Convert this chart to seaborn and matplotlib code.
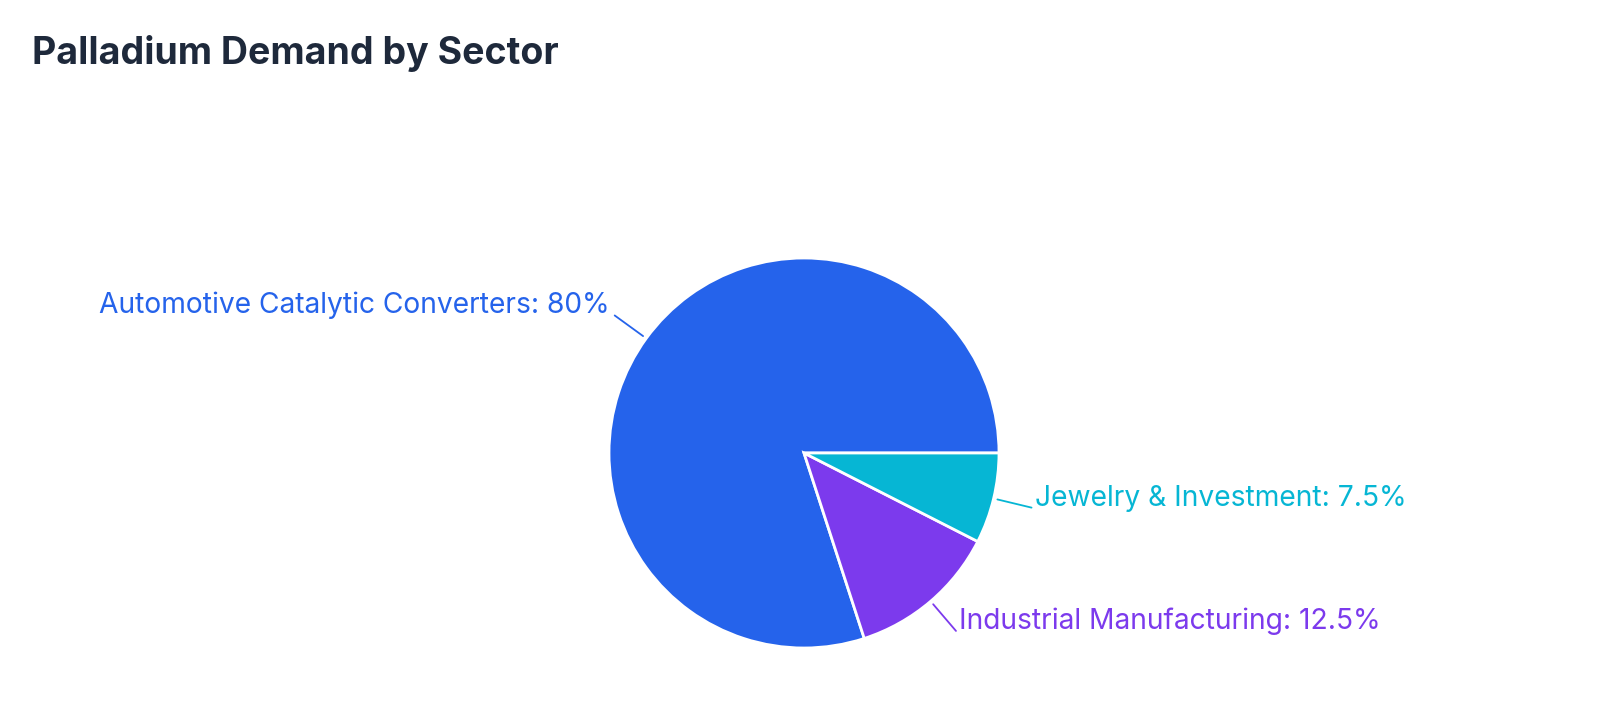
import numpy as np
import seaborn as sns
from matplotlib import pyplot as plt

sectors = ['Automotive Catalytic Converters', 'Industrial Manufacturing', 'Jewelry & Investment']
shares = [80, 12.5, 7.5]
share_labels = ['80%', '12.5%', '7.5%']
colors = ['#2563EB', '#7C3AED', '#06B6D4']

sns.set_theme(style='white')
plt.rcParams['font.family'] = ['Inter', 'DejaVu Sans']

fig = plt.figure(figsize=(16, 7.04), dpi=100)
ax = fig.add_axes([0, 0, 1, 1])

cx, cy, R = 804, 704 - 453, 195
wedges, _ = ax.pie(shares, colors=colors, startangle=0, counterclock=True,
                   center=(cx, cy), radius=R,
                   wedgeprops=dict(edgecolor='white', linewidth=2))
ax.set_xlim(0, 1600)
ax.set_ylim(0, 704)
ax.set_aspect('equal')
ax.axis('off')

for w, name, lab, col in zip(wedges, sectors, share_labels, colors):
    mid = np.deg2rad((w.theta1 + w.theta2) / 2)
    x0, y0 = cx + 1.02 * R * np.cos(mid), cy + 1.02 * R * np.sin(mid)
    x1, y1 = cx + 1.2 * R * np.cos(mid), cy + 1.2 * R * np.sin(mid)
    ax.plot([x0, x1], [y0, y1], color=col, lw=1.3)
    right = np.cos(mid) >= 0
    ax.text(x1 + (3 if right else -5), y1 + 2, f'{name}: {lab}', color=col,
            fontsize=20.3, ha='left' if right else 'right', va='baseline')

fig.text(32 / 1600, 1 - 53 / 704, 'Palladium Demand by Sector', fontsize=27,
         fontweight='bold', color='#1e293b', ha='left', va='center')

plt.savefig('out.png', dpi=100)
